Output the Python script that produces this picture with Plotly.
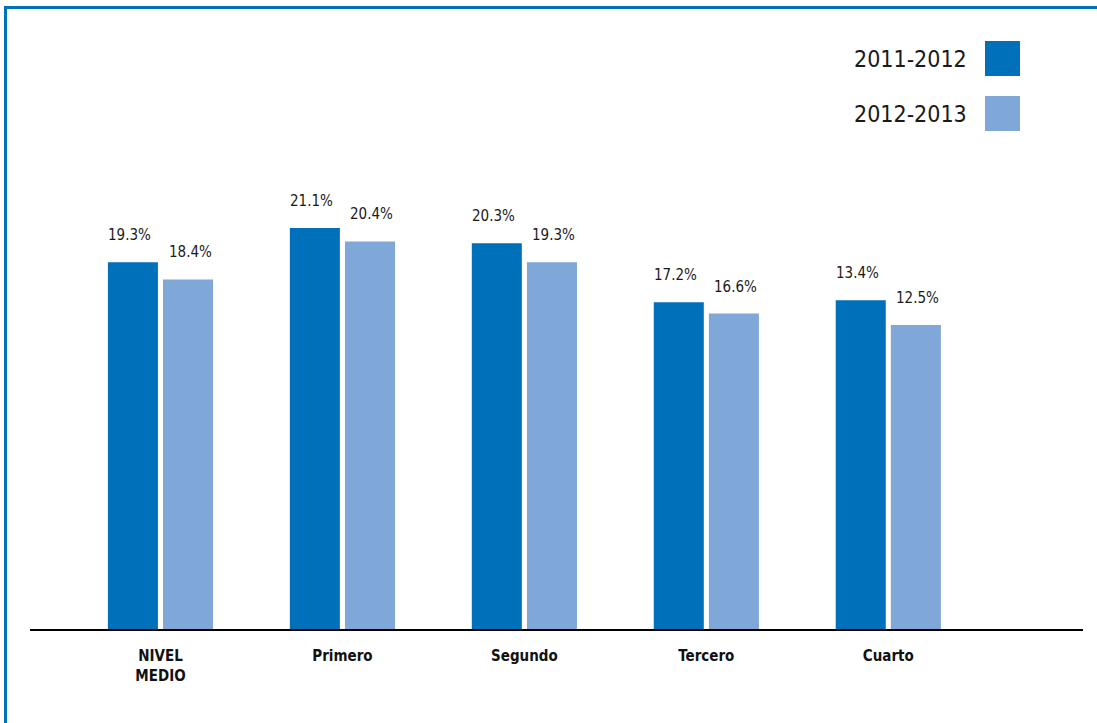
import plotly.graph_objects as go

categories = ["NIVEL<br>MEDIO", "Primero", "Segundo", "Tercero", "Cuarto"]
series_names = ["2011-2012", "2012-2013"]
# bar heights as drawn in the picture (percent)
values_2011 = [19.3, 21.1, 20.3, 17.2, 17.3]
values_2012 = [18.4, 20.4, 19.3, 16.6, 16.0]
# value labels as printed in the picture
labels_2011 = ["19.3%", "21.1%", "20.3%", "17.2%", "13.4%"]
labels_2012 = ["18.4%", "20.4%", "19.3%", "16.6%", "12.5%"]

DARK = "#0070BA"
LIGHT = "#7FA7D8"
FONT = "DejaVu Sans Condensed, Liberation Sans Narrow, Roboto, sans-serif"

W, H = 1097, 723
L, R, T, B = 30, 14, 20, 94
pw, ph = W - L - R, H - T - B

BAR_W = 0.275
OFFSETS = [-0.289, 0.014]

def px_x(px):
    return (px - L) / pw

def px_y(py):
    return (H - B - py) / ph

fig = go.Figure()
for name, vals, col, off in zip(series_names, [values_2011, values_2012],
                                [DARK, LIGHT], OFFSETS):
    fig.add_trace(go.Bar(
        x=categories, y=vals, name=name,
        marker=dict(color=col, line=dict(width=0)),
        width=BAR_W, offset=off,
    ))

annotations = []
for vals, labs, off, xs in zip([values_2011, values_2012], [labels_2011, labels_2012],
                               OFFSETS, [-3, 2]):
    for i, (v, lab) in enumerate(zip(vals, labs)):
        annotations.append(dict(
            text=lab, x=i + off + BAR_W / 2, y=v, xref="x", yref="y",
            xanchor="center", yanchor="middle", xshift=xs, yshift=27,
            showarrow=False, font=dict(family=FONT, size=15, color="#1a1a1a")))

shapes = [
    # frame (left and top)
    dict(type="line", xref="paper", yref="paper", x0=px_x(5.5), x1=px_x(5.5),
         y0=px_y(6), y1=px_y(723), line=dict(color=DARK, width=3)),
    dict(type="line", xref="paper", yref="paper", x0=px_x(4), x1=px_x(1097),
         y0=px_y(7.5), y1=px_y(7.5), line=dict(color=DARK, width=3)),
    # legend swatches
    dict(type="rect", xref="paper", yref="paper", x0=px_x(985), x1=px_x(1020),
         y0=px_y(76), y1=px_y(41), fillcolor=DARK, line=dict(width=0)),
    dict(type="rect", xref="paper", yref="paper", x0=px_x(985), x1=px_x(1020),
         y0=px_y(131), y1=px_y(96), fillcolor=LIGHT, line=dict(width=0)),
]
for name, py in zip(series_names, [59, 114]):
    annotations.append(dict(
        text=name, xref="paper", yref="paper", x=px_x(969), y=px_y(py),
        xanchor="right", yanchor="middle", showarrow=False,
        font=dict(family=FONT, size=23, color="#1a1a1a")))

fig.update_layout(
    width=W, height=H,
    margin=dict(l=L, r=R, t=T, b=B),
    paper_bgcolor="white", plot_bgcolor="white",
    showlegend=False, barmode="group",
    shapes=shapes, annotations=annotations,
    xaxis=dict(range=[-0.717, 5.07], showline=True, linecolor="black", linewidth=2,
               showgrid=False, zeroline=False, ticks="outside", ticklen=12,
               tickcolor="rgba(0,0,0,0)",
               tickfont=dict(family=FONT, size=15, color="#111111", weight="bold")),
    yaxis=dict(range=[0, ph / 19.0], visible=False, showgrid=False, zeroline=False),
)

fig.write_html("out.html", config={"displayModeBar": False},
               post_script="document.body.style.margin='0';document.body.style.overflow='hidden';")
